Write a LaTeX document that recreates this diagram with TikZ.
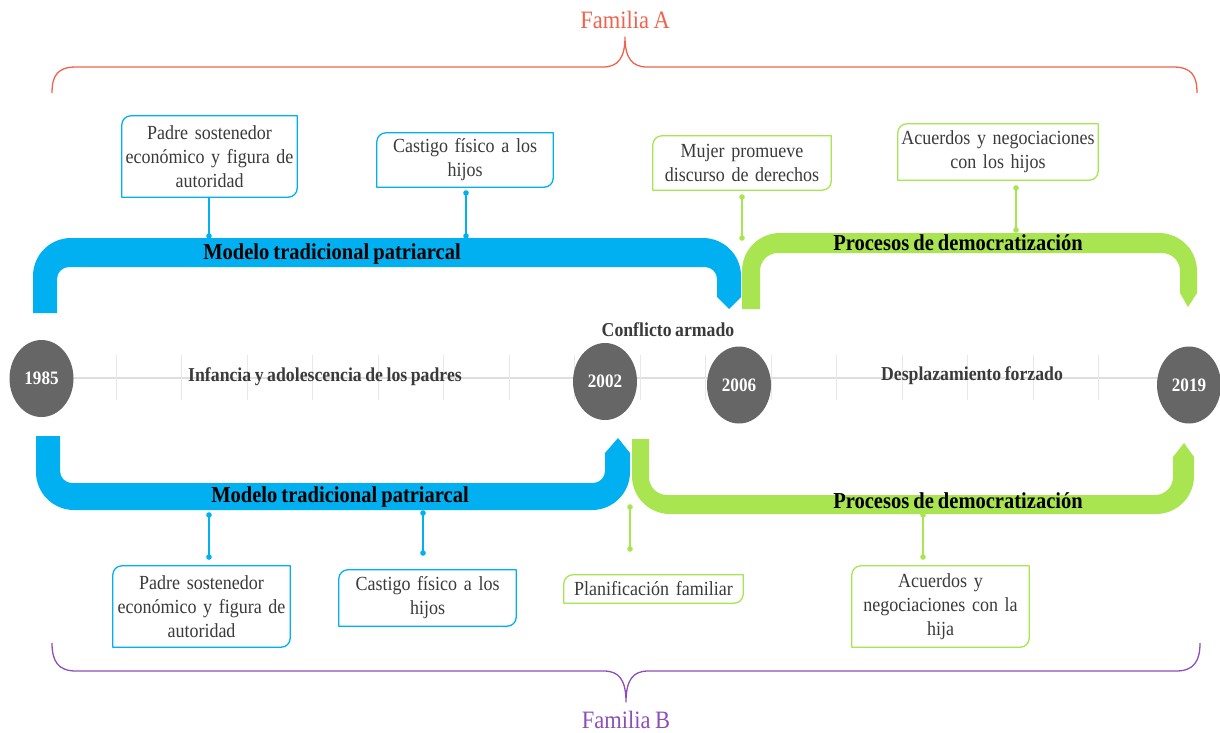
\documentclass[tikz,border=0pt]{standalone}
\usepackage{fontspec}
\setmainfont{Liberation Serif}[FakeStretch=0.9,WordSpace=0.8]
\usetikzlibrary{shapes.geometric}
\definecolor{celeste}{HTML}{00B0F0}
\definecolor{lima}{HTML}{A8E550}
\definecolor{grisanio}{HTML}{666666}
\definecolor{textogris}{HTML}{3A3A3A}
\definecolor{rojofam}{HTML}{F0624D}
\definecolor{moradofam}{HTML}{8C4FB8}
% caja con dos esquinas redondeadas
\newcommand{\hoja}[2]{\draw[#2,line width=1.3pt] ([xshift=9pt]#1.north west) -- (#1.north east) -- ([yshift=9pt]#1.south east) arc(0:-90:9pt) -- (#1.south west) -- ([yshift=-9pt]#1.north west) arc(180:90:9pt) -- cycle;}
\begin{document}
\begin{tikzpicture}[x=1pt,y=1pt,line join=round,
    caja/.style={inner sep=0pt,align=center,text=textogris,font=\fontsize{20}{24}\selectfont},
    anio/.style={ellipse,fill=grisanio,minimum width=64pt,minimum height=77pt,inner sep=0pt,text=white,font=\bfseries\fontsize{19}{19}\selectfont},
    barra/.style={font=\bfseries\fontsize{22.8}{24}\selectfont},
    etapa/.style={text=textogris,font=\bfseries\fontsize{19.7}{22}\selectfont}]
\useasboundingbox (0,0) rectangle (1220,-732);
%Familia A
\draw[rojofam,line width=1.3pt] (52,-93) .. controls (52,-75) and (58,-67) .. (76,-67) -- (603,-67) .. controls (618,-67) and (625,-58) .. (625,-37) .. controls (625,-58) and (632,-67) .. (647,-67) -- (1173,-67) .. controls (1191,-67) and (1197,-75) .. (1197,-93);
\node[text=rojofam,font=\fontsize{25}{25}\selectfont] (tA) at (625,-20) {Familia A};
%Familia B
\draw[moradofam,line width=1.3pt] (52,-643) .. controls (52,-661) and (58,-671) .. (76,-671) -- (604,-671) .. controls (619,-671) and (626,-680) .. (626,-702) .. controls (626,-680) and (633,-671) .. (648,-671) -- (1176,-671) .. controls (1194,-671) and (1200,-661) .. (1200,-643);
\node[text=moradofam,font=\fontsize{25}{25}\selectfont] (tB) at (626,-720) {Familia B};
%Linea de tiempo
\coordinate (ini) at (42,-378);
\coordinate (fin) at (1182,-378);
\draw[black!13,line width=1.5pt] (ini) -- (fin);
\foreach \i in {0,...,15} \draw[black!9,line width=1pt] (116+65.5*\i,-355) -- ++(0,-45);
\node[anio] (y1985) at (41.5,-378.5) {1985};
\node[anio] (y2002) at (605,-381.5) {2002};
\node[anio] (y2006) at (739,-385) {2006};
\node[anio] (y2019) at (1189,-385) {2019};
\node[etapa] (infancia) at (325,-377) {Infancia y adolescencia de los padres};
\node[etapa] (desplaz) at (972,-376) {Desplazamiento forzado};
\node[etapa] (conflicto) at (668,-330) {Conflicto armado};
%Barras arriba
\fill[celeste] (33,-313) -- (33,-276) arc(180:90:38) -- (703,-238) arc(90:0:38) -- (741,-297) -- (729,-309) -- (717,-297) -- (717,-279) arc(0:90:12) -- (69,-267) arc(90:180:12) -- (57,-313) -- cycle;
\fill[lima] (742,-309) -- (742,-271) arc(180:90:38) -- (1159,-233) arc(90:0:38) -- (1197,-293) -- (1188,-307) -- (1180,-293) -- (1180,-271) arc(0:90:18) -- (778,-253) arc(90:180:18) -- (760,-309) -- cycle;
%Barras abajo
\fill[celeste] (36,-436) -- (36,-472) arc(180:270:38) -- (592,-510) arc(270:360:38) -- (630,-453) -- (618,-438) -- (605,-453) -- (605,-471) arc(0:-90:12) -- (72,-483) arc(270:180:12) -- (60,-436) -- cycle;
\fill[lima] (632,-439) -- (632,-476) arc(180:270:38) -- (1156,-514) arc(270:360:38) -- (1194,-457) -- (1184,-443) -- (1173,-457) -- (1173,-477) arc(0:-90:18) -- (667,-495) arc(270:180:18) -- (649,-439) -- cycle;
\node[barra] (mod1) at (332,-254) {Modelo tradicional patriarcal};
\node[barra] (dem1) at (958,-243) {Procesos de democratización};
\node[barra] (mod2) at (340,-497) {Modelo tradicional patriarcal};
\node[barra] (dem2) at (958,-501) {Procesos de democratización};
%Cajas arriba
\node[caja,text width=175pt,minimum height=81pt] (a1) at (209.5,-156.5) {Padre sostenedor\\económico y figura de\\autoridad};
\node[caja,text width=176pt,minimum height=54pt] (a2) at (465,-160) {Castigo físico a los\\hijos};
\node[caja,text width=178pt,minimum height=54pt] (a3) at (742,-163) {Mujer promueve\\discurso de derechos};
\node[caja,text width=200pt,minimum height=56pt] (a4) at (998,-152) {Acuerdos y negociaciones\\con los hijos};
\hoja{a1}{celeste} \hoja{a2}{celeste} \hoja{a3}{lima} \hoja{a4}{lima}
%Cajas abajo
\node[caja,text width=177pt,minimum height=81pt] (b1) at (201.5,-606.5) {Padre sostenedor\\económico y figura de\\autoridad};
\node[caja,text width=177pt,minimum height=56pt] (b2) at (427.5,-598) {Castigo físico a los\\hijos};
\node[caja,text width=179pt,minimum height=28pt] (b3) at (653.5,-589) {Planificación familiar};
\node[caja,text width=177pt,minimum height=81pt] (b4) at (940.5,-606.5) {Acuerdos y\\negociaciones con la\\hija};
\hoja{b1}{celeste} \hoja{b2}{celeste} \hoja{b3}{lima} \hoja{b4}{lima}
%Conectores
\coordinate (a1p) at (209,-236);
\coordinate (a2s) at (466,-193); \coordinate (a2p) at (466,-236);
\coordinate (a3s) at (742,-197); \coordinate (a3p) at (742,-238);
\coordinate (a4s) at (1016,-188); \coordinate (a4p) at (1016,-230);
\coordinate (b1s) at (209,-557); \coordinate (b1p) at (209,-515);
\coordinate (b2s) at (423,-553); \coordinate (b2p) at (423,-513);
\coordinate (b3s) at (630,-549); \coordinate (b3p) at (630,-507);
\coordinate (b4s) at (923,-557); \coordinate (b4p) at (923,-515);
\draw[celeste,line width=1.3pt] (a1.south -| a1p) -- (a1p) (a2s) -- (a2p) (b1s) -- (b1p) (b2s) -- (b2p);
\draw[lima,line width=1.3pt] (a3s) -- (a3p) (a4s) -- (a4p) (b3s) -- (b3p) (b4s) -- (b4p);
\fill[celeste] (a1p) circle(2.8pt) (a2s) circle(2.8pt) (a2p) circle(2.8pt) (b1s) circle(2.8pt) (b1p) circle(2.8pt) (b2s) circle(2.8pt) (b2p) circle(2.8pt);
\fill[lima] (a3s) circle(2.8pt) (a3p) circle(2.8pt) (a4s) circle(2.8pt) (a4p) circle(2.8pt) (b3s) circle(2.8pt) (b3p) circle(2.8pt) (b4s) circle(2.8pt) (b4p) circle(2.8pt);
\end{tikzpicture}
\end{document}
